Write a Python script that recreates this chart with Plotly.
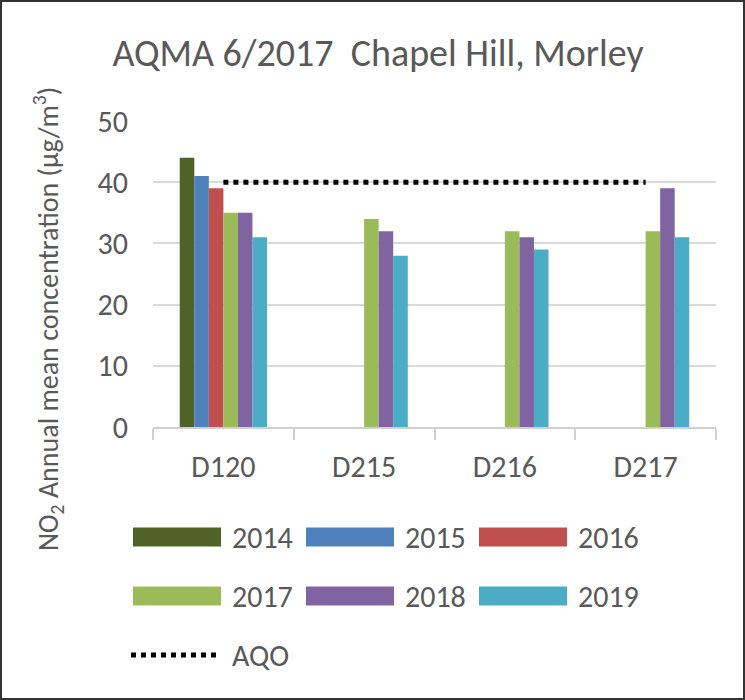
import plotly.graph_objects as go

categories = ["D120", "D215", "D216", "D217"]
years = ["2014", "2015", "2016", "2017", "2018", "2019"]
v2014 = [44, None, None, None]
v2015 = [41, None, None, None]
v2016 = [39, None, None, None]
v2017 = [35, 34, 32, 32]
v2018 = [35, 32, 31, 39]
v2019 = [31, 28, 29, 31]
aqo = [40, 40, 40, 40]
series = [v2014, v2015, v2016, v2017, v2018, v2019]
colors = ["#4F6228", "#4F81BD", "#C0504D", "#9BBB59", "#8064A2", "#4BACC6"]
y_ticks = [0, 10, 20, 30, 40, 50]

FONT = "Carlito, Calibri, Lato, Liberation Sans, sans-serif"
GREY = "#595959"
W, H = 745, 700
L, R, T, B = 153, 716, 121, 427


def px_x(p):
    return (p - L) / (R - L)


def px_y(p):
    return (B - p) / (B - T)


fig = go.Figure()
for name, vals, col in zip(years, series, colors):
    fig.add_trace(go.Bar(x=categories, y=vals, name=name, marker=dict(color=col, line=dict(width=0)),
                         showlegend=False))
fig.add_trace(go.Scatter(x=categories, y=aqo, name="AQO", mode="lines",
                         line=dict(color="black", width=5, dash="dot"), showlegend=False))

shapes = []
annotations = []
# custom legend (wide swatches as in the reference)
col_x = [133, 306, 479]
row_y = [537, 596]
for i, (name, col) in enumerate(zip(years, colors)):
    r, c = divmod(i, 3)
    x0 = col_x[c]
    yc = row_y[r]
    shapes.append(dict(type="rect", xref="paper", yref="paper",
                       x0=px_x(x0), x1=px_x(x0 + 88), y0=px_y(yc + 9.5), y1=px_y(yc - 9.5),
                       fillcolor=col, line=dict(width=0)))
    annotations.append(dict(text=name, xref="paper", yref="paper", x=px_x(x0 + 97), y=px_y(yc),
                            xanchor="left", yanchor="middle", showarrow=False,
                            font=dict(family=FONT, size=30, color=GREY)))
shapes.append(dict(type="line", xref="paper", yref="paper",
                   x0=px_x(131), x1=px_x(220), y0=px_y(655), y1=px_y(655),
                   line=dict(color="black", width=5, dash="dot")))
annotations.append(dict(text="AQO", xref="paper", yref="paper", x=px_x(230), y=px_y(655),
                        xanchor="left", yanchor="middle", showarrow=False,
                        font=dict(family=FONT, size=30, color=GREY)))
# y-axis title
annotations.append(dict(text="NO<sub>2</sub> Annual mean concentration (µg/m<sup>3</sup>)",
                        xref="paper", yref="paper", x=px_x(48), y=px_y(319),
                        xanchor="center", yanchor="middle", textangle=-90, showarrow=False,
                        font=dict(family=FONT, size=28, color=GREY)))
# outer frame
shapes.append(dict(type="rect", xref="paper", yref="paper",
                   x0=px_x(1), x1=px_x(W - 1), y0=px_y(H - 1), y1=px_y(1),
                   line=dict(color="#333333", width=2), fillcolor="rgba(0,0,0,0)", layer="above"))

fig.update_layout(
    width=W, height=H,
    margin=dict(l=L, r=W - R, t=T, b=H - B, pad=0),
    paper_bgcolor="white", plot_bgcolor="white",
    barmode="group", bargap=0.38, bargroupgap=0,
    title=dict(text="AQMA 6/2017  Chapel Hill, Morley", xref="container", yref="container",
               x=378 / W, y=1 - 53 / H, xanchor="center", yanchor="middle",
               font=dict(family=FONT, size=38, color=GREY)),
    shapes=shapes, annotations=annotations,
    showlegend=False,
)
fig.update_xaxes(showline=True, linecolor="#d0d0d0", linewidth=2, ticks="outside",
                 tickson="boundaries", ticklen=11, tickwidth=2, tickcolor="#d0d0d0",
                 tickfont=dict(family=FONT, size=30, color=GREY), ticklabelstandoff=12,
                 showgrid=False)
fig.update_yaxes(range=[0, 50], tickvals=y_ticks, showgrid=True, gridcolor="#d9d9d9", gridwidth=2,
                 zeroline=False, showline=False, ticks="",
                 tickfont=dict(family=FONT, size=30, color=GREY), ticklabelstandoff=24)

fig.write_html("out.html", config={"displayModeBar": False},
               post_script="document.body.style.margin='0';")
